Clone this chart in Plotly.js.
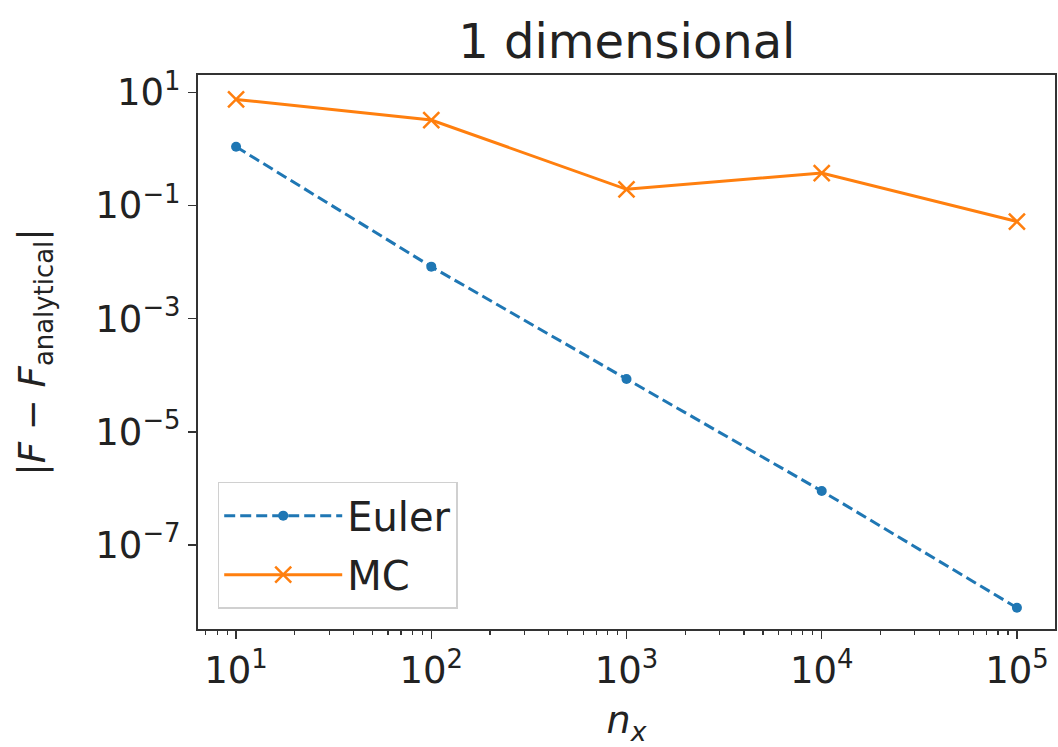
<!DOCTYPE html>
<html>
<head>
<meta charset="utf-8">
<script src="https://cdn.plot.ly/plotly-3.0.1.min.js"></script>
<style>
html,body{margin:0;padding:0;background:#fff;}
#chart{width:1058px;height:747px;}
</style>
</head>
<body>
<div id="chart"></div>
<script>
// Data
const nx = [10, 100, 1000, 10000, 100000];
const eulerErr = [1.09, 0.0083, 8.6e-5, 9.0e-7, 7.8e-9];
const mcErr = [7.5, 3.24, 0.193, 0.375, 0.052];
const seriesNames = ["Euler", "MC"];
const xTickVals = [10, 100, 1000, 10000, 100000];
const xTickText = ["10<sup>1</sup>", "10<sup>2</sup>", "10<sup>3</sup>", "10<sup>4</sup>", "10<sup>5</sup>"];
const yTickVals = [10, 0.1, 1e-3, 1e-5, 1e-7];
const yTickText = ["10<sup>1</sup>", "10<sup>\u22121</sup>", "10<sup>\u22123</sup>", "10<sup>\u22125</sup>", "10<sup>\u22127</sup>"];

// minor tick positions (2..9 within each decade)
const xMinor = [];
for (let d = 0; d <= 5; d++) {
  for (let k = 2; k <= 9; k++) xMinor.push(k * Math.pow(10, d));
}

const font = "DejaVu Sans, sans-serif";
const traces = [
  {
    x: nx, y: eulerErr, name: seriesNames[0], type: "scatter", mode: "lines+markers",
    legendgroup: "a",
    line: {color: "#1f77b4", width: 3, dash: "11px,5px"},
    marker: {color: "#1f77b4", size: 10, symbol: "circle"}
  },
  {
    x: nx, y: mcErr, name: seriesNames[1], type: "scatter", mode: "lines+markers",
    legendgroup: "b",
    line: {color: "#ff7f0e", width: 3},
    marker: {color: "#ff7f0e", size: 16, symbol: "x-thin-open", line: {color: "#ff7f0e", width: 2.5}}
  }
];

const axisCommon = {
  showgrid: false, zeroline: false, showline: true, mirror: true,
  linecolor: "#333", linewidth: 2, ticks: "outside", tickcolor: "#333",
  ticklen: 8, tickwidth: 1.5, tickfont: {family: font, size: 37, color: "#222"}
};

const layout = {
  width: 1058, height: 747,
  paper_bgcolor: "#fff", plot_bgcolor: "#fff",
  margin: {l: 198, r: 3, t: 75, b: 118, pad: 0},
  font: {family: font, color: "#222"},
  title: {text: "1 dimensional", font: {family: font, size: 48, color: "#222"},
          x: 0.5925, xanchor: "center", y: 0.945, yanchor: "middle", yref: "container"},
  xaxis: Object.assign({}, axisCommon, {
    type: "log", range: [0.805, 5.195],
    tickmode: "array", tickvals: xTickVals, ticktext: xTickText,
    minor: {tickmode: "array", tickvals: xMinor, ticks: "outside", ticklen: 4, tickwidth: 1.2, tickcolor: "#333"},
    title: {text: "<i>n<sub>x</sub></i>", font: {family: font, size: 38, color: "#222"}, standoff: 16}
  }),
  yaxis: Object.assign({}, axisCommon, {
    type: "log", range: [-8.484, 1.306],
    tickmode: "array", tickvals: yTickVals, ticktext: yTickText,
    title: {text: "|<i>F</i> \u2212 <i>F</i><sub>analytical</sub>|", font: {family: font, size: 37, color: "#222"}, standoff: 38}
  }),
  showlegend: true,
  legend: {
    x: 0.023, y: 0.266, xanchor: "left", yanchor: "top",
    bgcolor: "rgba(255,255,255,0.8)", bordercolor: "#d0d0d0", borderwidth: 1.5,
    font: {family: font, size: 40, color: "#222"},
    itemwidth: 118, tracegroupgap: 4
  }
};

Plotly.newPlot("chart", traces, layout, {staticPlot: true, displayModeBar: false});
</script>
</body>
</html>
